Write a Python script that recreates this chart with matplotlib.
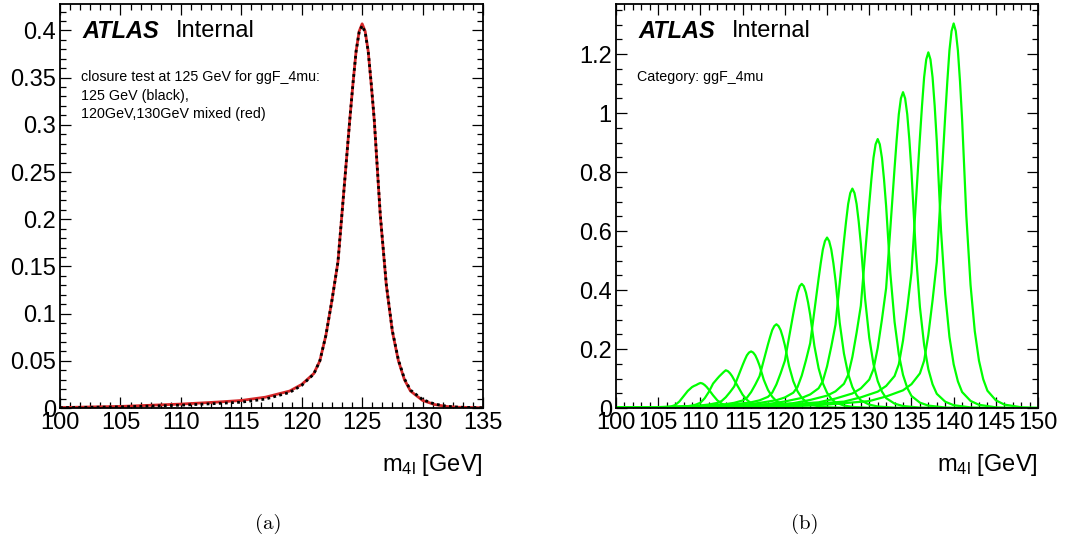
import matplotlib
matplotlib.use("Agg")
import matplotlib.pyplot as plt
from matplotlib.ticker import MultipleLocator, FormatStrFormatter

plt.rcParams['font.family'] = ['Liberation Sans', 'DejaVu Sans']
plt.rcParams['mathtext.fontset'] = 'custom'
plt.rcParams['mathtext.rm'] = 'Liberation Sans'
plt.rcParams['mathtext.it'] = 'Liberation Sans:italic'

# --- panel (a): closure test at 125 GeV, ggF_4mu ---
mass_a = [100, 105, 110, 113, 115, 117, 119, 120, 121, 121.5, 122, 122.5, 123, 123.5,
          124, 124.25, 124.5, 124.75, 125, 125.25, 125.5, 125.75, 126, 126.5, 127, 127.5,
          128, 128.5, 129, 130, 131, 132, 133, 135]
mixed_red = [0.0005, 0.0017, 0.0042, 0.0063, 0.0080, 0.0115, 0.0180, 0.025, 0.0365, 0.050,
             0.077, 0.114, 0.155, 0.232, 0.309, 0.345, 0.378, 0.399, 0.407, 0.399, 0.378,
             0.343, 0.305, 0.204, 0.130, 0.081, 0.050, 0.030, 0.018, 0.008, 0.0037, 0.0016,
             0.0008, 0.0003]
nominal_black = [0.0004, 0.0012, 0.0030, 0.0048, 0.0062, 0.0095, 0.0165, 0.024, 0.0360, 0.050,
                 0.077, 0.114, 0.155, 0.232, 0.309, 0.345, 0.378, 0.398, 0.405, 0.398, 0.378,
                 0.344, 0.306, 0.205, 0.131, 0.082, 0.051, 0.031, 0.019, 0.009, 0.0042,
                 0.0019, 0.0009, 0.0003]

# --- panel (b): signal shapes vs. mass, ggF_4mu ---
peak_mass = [110, 113, 116, 119, 122, 125, 128, 131, 134, 137, 140]
# offsets from the peak mass at which each shape was read
dm = [-40, -30, -20, -15, -10, -8, -6, -5, -4, -3.5, -3, -2.5, -2, -1.5, -1, -0.75, -0.5,
      -0.25, 0, 0.25, 0.5, 0.75, 1, 1.5, 2, 2.5, 3, 3.5, 4, 5, 6, 8, 10]
shape_110 = [0, 0, 0.0002, 0.0004, 0.0008, 0.0012, 0.0018, 0.0024, 0.0035, 0.005, 0.010,
             0.022, 0.040, 0.058, 0.071, 0.075, 0.078, 0.082, 0.085, 0.083, 0.078, 0.071,
             0.062, 0.043, 0.026, 0.015, 0.008, 0.005, 0.003, 0.0015, 0.0008, 0.0003, 0.0001]
shape_113 = [0, 0.0001, 0.0004, 0.0008, 0.0015, 0.002, 0.003, 0.004, 0.008, 0.012, 0.018,
             0.033, 0.055, 0.083, 0.100, 0.108, 0.115, 0.122, 0.128, 0.125, 0.118, 0.108,
             0.095, 0.070, 0.045, 0.028, 0.016, 0.009, 0.005, 0.002, 0.001, 0.0003, 0.0001]
shape_116 = [0.0001, 0.0002, 0.0008, 0.0017, 0.0035, 0.0058, 0.0088, 0.0119, 0.0173, 0.0236,
             0.0365, 0.0538, 0.0730, 0.1094, 0.1459, 0.163, 0.1786, 0.188, 0.192, 0.188,
             0.1786, 0.163, 0.144, 0.096, 0.0614, 0.0384, 0.0236, 0.0144, 0.0086, 0.0038,
             0.0017, 0.0004, 0.0001]
shape_119 = [0.0001, 0.0003, 0.0011, 0.0026, 0.0051, 0.0085, 0.0131, 0.0176, 0.0256, 0.0349,
             0.054, 0.0795, 0.1079, 0.1619, 0.2158, 0.241, 0.2641, 0.278, 0.284, 0.278,
             0.2641, 0.241, 0.213, 0.142, 0.0909, 0.0568, 0.0349, 0.0213, 0.0128, 0.0057,
             0.0026, 0.0006, 0.0002]
shape_122 = [0.0002, 0.0004, 0.0017, 0.0038, 0.0076, 0.0126, 0.0194, 0.0261, 0.0379, 0.0518,
             0.08, 0.1179, 0.16, 0.24, 0.32, 0.358, 0.3915, 0.413, 0.421, 0.413, 0.3915,
             0.358, 0.3158, 0.2105, 0.1347, 0.0842, 0.0518, 0.0316, 0.0189, 0.0084, 0.0038,
             0.0008, 0.0003]
shape_125 = [0.0003, 0.0006, 0.0023, 0.0052, 0.0104, 0.0173, 0.0266, 0.0358, 0.052, 0.0711,
             0.1098, 0.1618, 0.2196, 0.3295, 0.4393, 0.491, 0.5375, 0.566, 0.578, 0.566,
             0.5375, 0.491, 0.4335, 0.289, 0.185, 0.1156, 0.0711, 0.0434, 0.026, 0.0116,
             0.0052, 0.0012, 0.0004]
shape_128 = [0.0004, 0.0007, 0.003, 0.0067, 0.0134, 0.0223, 0.0342, 0.0461, 0.067, 0.0915,
             0.1414, 0.2083, 0.2827, 0.4241, 0.5654, 0.632, 0.6919, 0.729, 0.744, 0.729,
             0.6919, 0.632, 0.558, 0.372, 0.2381, 0.1488, 0.0915, 0.0558, 0.0335, 0.0149,
             0.0067, 0.0015, 0.0005]
shape_131 = [0.0005, 0.0009, 0.0036, 0.0082, 0.0164, 0.0274, 0.042, 0.0565, 0.0821, 0.1122,
             0.1733, 0.2554, 0.3466, 0.5198, 0.6931, 0.775, 0.8482, 0.894, 0.912, 0.894,
             0.8482, 0.775, 0.684, 0.456, 0.2918, 0.1824, 0.1122, 0.0684, 0.041, 0.0182,
             0.0082, 0.0018, 0.0006]
shape_134 = [0.0005, 0.0011, 0.0043, 0.0096, 0.0193, 0.0321, 0.0493, 0.0664, 0.0964, 0.1317,
             0.2035, 0.2999, 0.407, 0.6105, 0.814, 0.910, 0.996, 1.050, 1.071, 1.050,
             0.996, 0.910, 0.8033, 0.5355, 0.3427, 0.2142, 0.1317, 0.0803, 0.0482, 0.0214,
             0.0096, 0.0021, 0.0007]
shape_137 = [0.0006, 0.0012, 0.0048, 0.0109, 0.0217, 0.0362, 0.0555, 0.0748, 0.1085, 0.1483,
             0.2291, 0.3377, 0.4583, 0.6874, 0.9166, 1.025, 1.1216, 1.182, 1.206, 1.182,
             1.1216, 1.025, 0.9045, 0.603, 0.3859, 0.2412, 0.1483, 0.0905, 0.0543, 0.0241,
             0.0109, 0.0024, 0.0008]
shape_140 = [0.0007, 0.0013, 0.0052, 0.0117, 0.0235, 0.0391, 0.06, 0.0808, 0.1174, 0.1604,
             0.2478, 0.3651, 0.4955, 0.7433, 0.991, 1.108, 1.2127, 1.278, 1.304, 1.278,
             1.2127, 1.108, 0.978, 0.652, 0.4173, 0.2608, 0.1604, 0.0978, 0.0587, 0.0261,
             0.0117, 0.0026, 0.0009]
shapes_b = [shape_110, shape_113, shape_116, shape_119, shape_122, shape_125,
            shape_128, shape_131, shape_134, shape_137, shape_140]

fig = plt.figure(figsize=(10.66, 5.46), dpi=100)
ax1 = fig.add_axes([0.0563, 0.2527, 0.3968, 0.74])
ax2 = fig.add_axes([0.5779, 0.2527, 0.3959, 0.74])


def root_style(ax, major_x, minor_x, major_y, minor_y):
    ax.xaxis.set_major_locator(MultipleLocator(major_x))
    ax.xaxis.set_minor_locator(MultipleLocator(minor_x))
    ax.yaxis.set_major_locator(MultipleLocator(major_y))
    ax.yaxis.set_minor_locator(MultipleLocator(minor_y))
    ax.xaxis.set_major_formatter(FormatStrFormatter('%g'))
    ax.yaxis.set_major_formatter(FormatStrFormatter('%g'))
    ax.tick_params(which='both', direction='in', top=True, right=True,
                   width=0.9, labelsize=17, pad=3)
    ax.tick_params(which='major', length=8)
    ax.tick_params(which='minor', length=4)
    for s in ax.spines.values():
        s.set_linewidth(1.3)


# (a)
ax1.plot(mass_a, mixed_red, color='#d62728', lw=2.0, solid_joinstyle='round')
ax1.plot(mass_a, nominal_black, color='black', lw=2.0, ls=(0, (1, 1.2)))
ax1.set_xlim(100, 135)
ax1.set_ylim(0, 0.428)
root_style(ax1, 5, 5 / 6, 0.05, 0.01)

# (b)
for m, ys in zip(peak_mass, shapes_b):
    ax2.plot([m + d for d in dm], ys, color='#00ff00', lw=1.6, solid_joinstyle='round')
ax2.set_xlim(100, 150)
ax2.set_ylim(0, 1.37)
root_style(ax2, 5, 1, 0.2, 0.05)

for ax in (ax1, ax2):
    ax.text(0.052, 0.933, 'ATLAS', transform=ax.transAxes, fontsize=17,
            fontweight='bold', fontstyle='italic', va='center', ha='left')
    ax.text(0.274, 0.933, 'Internal', transform=ax.transAxes, fontsize=17,
            va='center', ha='left')
    ax.text(1.0, -0.141, r'm$_{\mathrm{4l}}$ [GeV]', transform=ax.transAxes,
            fontsize=17, ha='right', va='center')

notes_a = ['closure test at 125 GeV for ggF_4mu:', '125 GeV (black),',
           '120GeV,130GeV mixed (red)']
for i, t in enumerate(notes_a):
    ax1.text(0.0496, 0.819 - 0.0455 * i, t, transform=ax1.transAxes, fontsize=10.3,
             va='center', ha='left')
ax2.text(0.0498, 0.819, 'Category: ggF_4mu', transform=ax2.transAxes, fontsize=10.3,
         va='center', ha='left')

fig.text(268 / 1066, 1 - 524 / 546, '(a)', fontsize=15, family='cmr10',
         ha='center', va='center')
fig.text(805 / 1066, 1 - 524 / 546, '(b)', fontsize=15, family='cmr10',
         ha='center', va='center')

fig.savefig('out.png', dpi=100)
